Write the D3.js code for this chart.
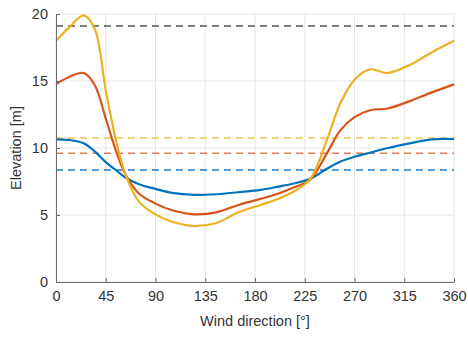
<!DOCTYPE html>
<html>
<head>
<meta charset="utf-8">
<script src="https://cdn.jsdelivr.net/npm/d3@7"></script>
<style>
  html, body { margin: 0; padding: 0; background: #fff; }
  svg { display: block; font-family: "Liberation Sans", Arial, Helvetica, sans-serif; }
</style>
</head>
<body>
<svg id="chart" width="468" height="337"></svg>
<script>
// Wind direction (degrees) at which elevations are sampled
const angles = [0, 12, 25, 35, 45, 55, 63, 75, 90, 105, 125, 145, 165, 185, 200, 215, 230, 245, 257, 270, 284, 300, 320, 340, 360];

// Elevation curves [m]
const blueValues   = [10.65, 10.6, 10.35, 9.75, 8.95, 8.3, 7.78, 7.3, 6.95, 6.65, 6.5, 6.55, 6.7, 6.87, 7.1, 7.35, 7.7, 8.45, 8.98, 9.35, 9.65, 10.0, 10.35, 10.65, 10.67];
const orangeValues = [14.78, 15.3, 15.6, 14.7, 12.2, 9.6, 8.0, 6.6, 5.85, 5.35, 5.05, 5.2, 5.75, 6.2, 6.57, 7.05, 7.65, 9.6, 11.3, 12.3, 12.82, 12.95, 13.5, 14.15, 14.75];
const yellowValues = [18.0, 19.0, 19.9, 18.9, 14.3, 10.3, 8.0, 6.0, 5.05, 4.5, 4.18, 4.4, 5.2, 5.75, 6.17, 6.75, 7.7, 10.6, 13.3, 15.1, 15.87, 15.6, 16.2, 17.15, 18.0];

// Reference levels (dashed)
const refLevels = [19.1, 10.75, 9.6, 8.35];
const refColors = ["#555555", "#EDB120", "#D95319", "#0072BD"];

// Axis ticks
const xTicks = [0, 45, 90, 135, 180, 225, 270, 315, 360];
const yTicks = [0, 5, 10, 15, 20];

const seriesColors = ["#0072BD", "#D95319", "#EDB120"];
const seriesValues = [blueValues, orangeValues, yellowValues];

const margin = { left: 56, right: 14, top: 14, bottom: 55 };
const W = 468, H = 337;
const svg = d3.select("#chart");

const x = d3.scaleLinear().domain([0, 360]).range([margin.left, W - margin.right]);
const y = d3.scaleLinear().domain([0, 20]).range([H - margin.bottom, margin.top]);

// Grid
const grid = svg.append("g");
grid.selectAll("line.gx").data(xTicks).join("line")
  .attr("x1", d => x(d)).attr("x2", d => x(d))
  .attr("y1", y(0)).attr("y2", y(20))
  .attr("stroke", "#e6e6e6").attr("stroke-width", 1);
grid.selectAll("line.gy").data(yTicks).join("line")
  .attr("y1", d => y(d)).attr("y2", d => y(d))
  .attr("x1", x(0)).attr("x2", x(360))
  .attr("stroke", "#e6e6e6").attr("stroke-width", 1);

// Reference dashed lines
svg.append("g").selectAll("line").data(refLevels).join("line")
  .attr("x1", x(0)).attr("x2", x(360))
  .attr("y1", d => y(d)).attr("y2", d => y(d))
  .attr("stroke", (d, i) => refColors[i])
  .attr("stroke-opacity", (d, i) => i === 0 ? 1 : (i === 3 ? 0.9 : 0.75))
  .attr("stroke-width", 1.5)
  .attr("stroke-dasharray", "7,5");

// Curves
const line = d3.line()
  .x((d, i) => x(angles[i]))
  .y(d => y(d))
  .curve(d3.curveCatmullRom.alpha(0.5));

svg.append("g").selectAll("path").data(seriesValues).join("path")
  .attr("d", d => line(d))
  .attr("fill", "none")
  .attr("stroke", (d, i) => seriesColors[i])
  .attr("stroke-width", 2.2)
  .attr("stroke-linejoin", "round");

// Axes
const xAxis = d3.axisBottom(x).tickValues(xTicks).tickSizeInner(-4).tickSizeOuter(0).tickPadding(9);
const yAxis = d3.axisLeft(y).tickValues(yTicks).tickSizeInner(-4).tickSizeOuter(0).tickPadding(8);

const gx = svg.append("g").attr("transform", `translate(0,${y(0)})`).call(xAxis);
const gy = svg.append("g").attr("transform", `translate(${x(0)},0)`).call(yAxis);
[gx, gy].forEach(g => {
  g.select(".domain").attr("stroke", "#6b6b6b").attr("stroke-width", 1);
  g.selectAll(".tick line").attr("stroke", "#6b6b6b");
  g.selectAll(".tick text").attr("fill", "#333333").attr("font-size", 14.5)
    .attr("font-family", "'Liberation Sans', Arial, sans-serif");
});

// Axis titles
svg.append("text")
  .attr("x", x(180)).attr("y", 326)
  .attr("text-anchor", "middle")
  .attr("font-size", 14.5).attr("fill", "#333333")
  .text("Wind direction [°]");

svg.append("text")
  .attr("transform", `translate(21,${y(10)}) rotate(-90)`)
  .attr("text-anchor", "middle")
  .attr("font-size", 14.5).attr("fill", "#333333")
  .text("Elevation [m]");
</script>
</body>
</html>
